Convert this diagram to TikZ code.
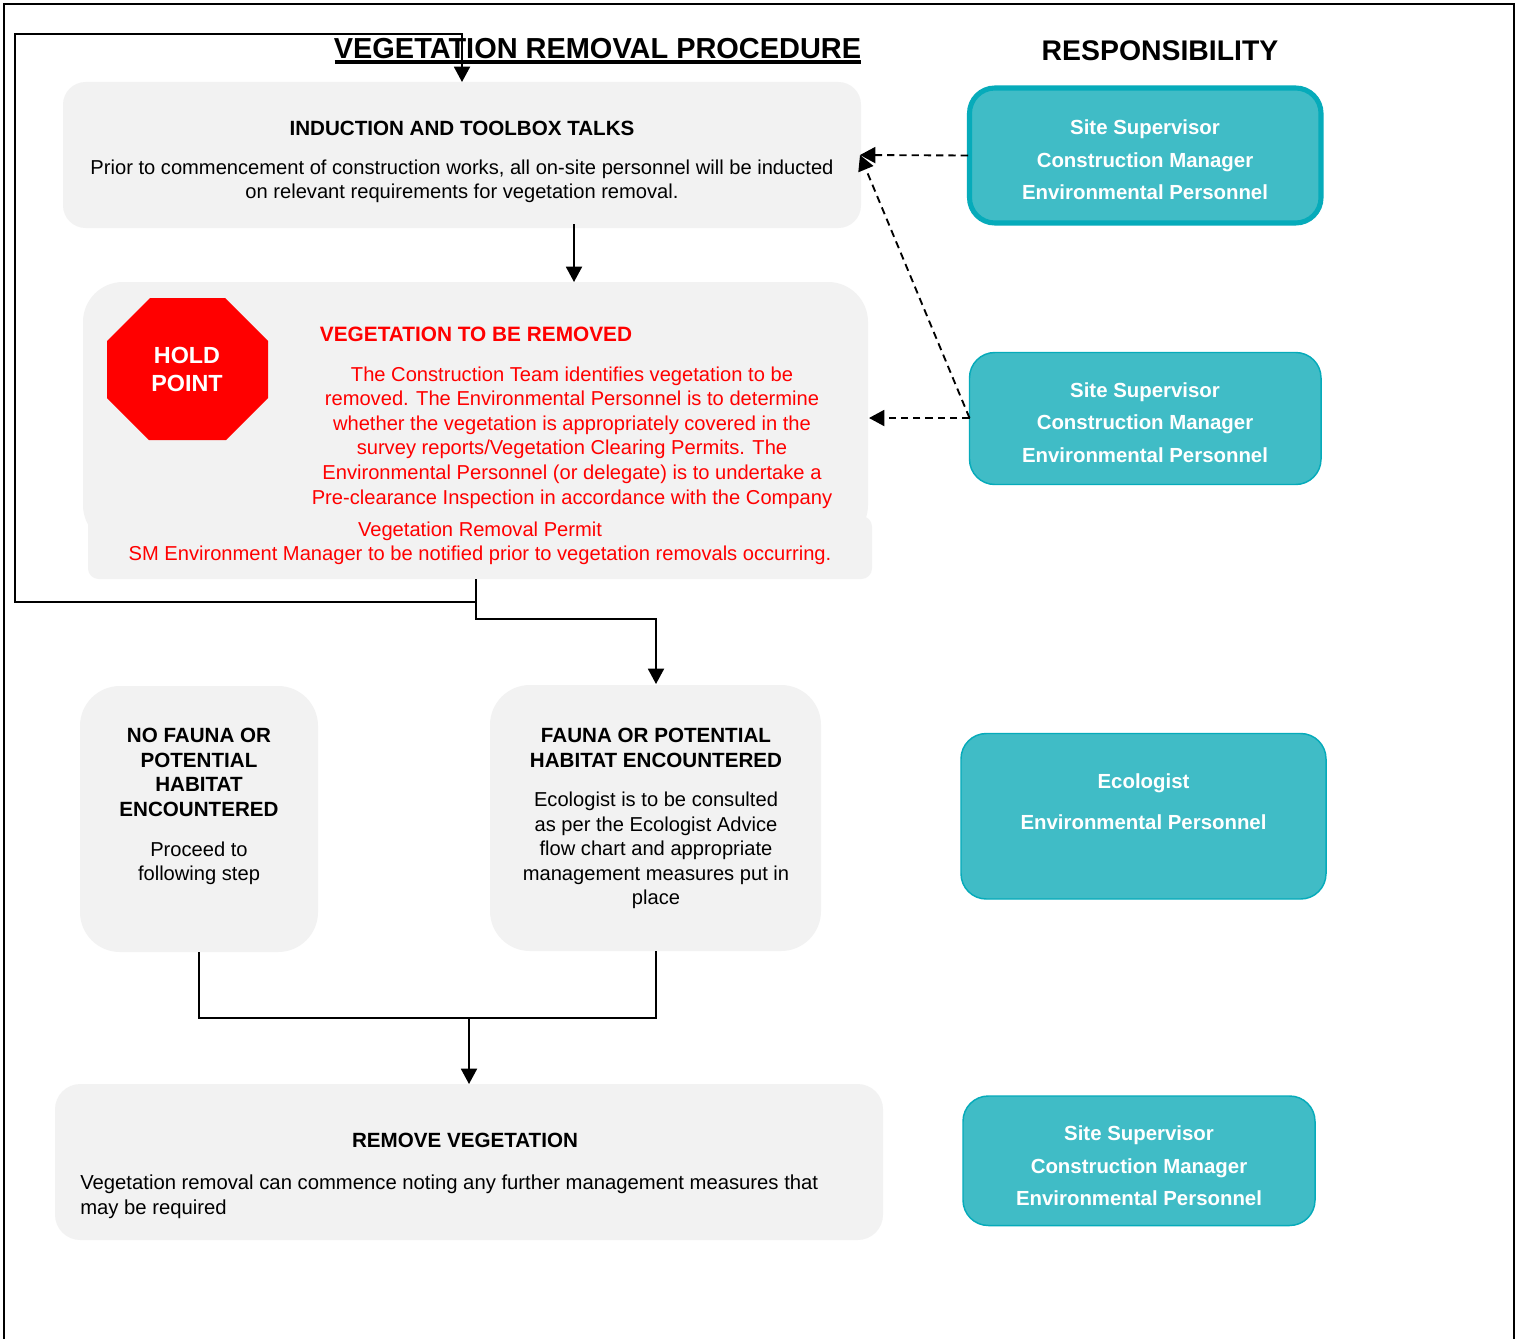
\documentclass[tikz,border=0pt]{standalone}
\usepackage{fontspec}
\setmainfont{Liberation Sans}
\usetikzlibrary{arrows.meta,calc}
\definecolor{boxgrey}{HTML}{F2F2F2}
\definecolor{tealfill}{HTML}{40BCC6}
\definecolor{tealline}{HTML}{06ABBA}
\definecolor{holdred}{HTML}{FF0000}
\newcommand{\bodyfont}{\fontsize{15.1}{18.4}\selectfont}
\newcommand{\headfont}{\fontsize{15.45}{18.4}\selectfont\bfseries}
\tikzset{
 x=0.75pt,y=-0.75pt,
 greybox/.style={fill=boxgrey,draw=none,inner sep=0pt,outer sep=0pt},
 tealbox/.style={fill=tealfill,draw=tealline,line width=1.1pt,rounded corners=19pt},
 body/.style={inner sep=0pt,align=center,text=black,font=\bodyfont},
 head/.style={inner sep=0pt,align=center,text=black,font=\headfont},
 redtxt/.style={inner sep=0pt,align=center,text=holdred,font=\bodyfont},
 tealtxt/.style={inner sep=0pt,align=center,text=white,font=\fontsize{15.3}{24.4}\selectfont\bfseries},
 conn/.style={draw=black,line width=1.4pt},
 arrowed/.style={conn,-{Triangle[length=11.5pt,width=12pt]}},
 dasharrow/.style={draw=black,line width=1.4pt,dash pattern=on 5.5pt off 3.7pt,-{Triangle[length=11.5pt,width=12pt]}},
}
\begin{document}
\begin{tikzpicture}
\useasboundingbox (0,0) rectangle (1519,1338);
\fill[white] (0,0) rectangle (1519,1338);
% frame
\draw[black,line width=1.5pt] (4,1345) -- (4,4) -- (1514,4) -- (1514,1345);
% grey boxes
\path[greybox,rounded corners=17pt] (63,82) rectangle (861,228);
\coordinate (indS) at (574,224);
\coordinate (indE) at (860,155);
\path[greybox,rounded corners=30pt] (83,282) rectangle (868,545);
\path[greybox,rounded corners=8pt] (88,516) rectangle (872,579);
\coordinate (vegN) at (574,282);
\coordinate (vegE) at (869,418);
\coordinate (vegS) at (476,579);
\path[greybox,rounded corners=30pt] (80,686) rectangle (318,952);
\coordinate (nofS) at (199,952);
\path[greybox,rounded corners=30pt] (490,685) rectangle (821,951);
\coordinate (fauN) at (656,684);
\coordinate (fauS) at (656,951);
\path[greybox,rounded corners=19pt] (55,1084) rectangle (883,1240);
\coordinate (remN) at (469,1084);
% teal boxes
\draw[tealbox,line width=3.8pt] (969.5,88) rectangle (1321,223);
\coordinate (t1W) at (968,155.5);
\draw[tealbox] (969.5,352.5) rectangle (1321,484.5);
\coordinate (t2W) at (969.5,418);
\draw[tealbox] (961,733.5) rectangle (1326,899);
\draw[tealbox] (963,1096) rectangle (1315,1225.5);
% octagon
\fill[holdred] (150,298) -- (225,298) -- (268,341) -- (268,398) -- (226,440) -- (149,440) -- (107,398) -- (107,341) -- cycle;
\node[inner sep=0pt,align=center,text=white,font=\fontsize{17.5}{21}\selectfont\bfseries] (hold) at (187,369.5) {HOLD\\POINT};
% titles
\node[inner sep=0pt,font=\fontsize{21.7}{26}\selectfont\bfseries] (title) at (597.5,48.5) {VEGETATION REMOVAL PROCEDURE};
\node[inner sep=0pt,font=\fontsize{21.3}{26}\selectfont\bfseries] (resp) at (1160,50.5) {RESPONSIBILITY};
\draw[black,line width=2.6pt] (334.5,62) -- (860.5,62);
% text
\node[head] (t-ind) at (462,128) {INDUCTION AND TOOLBOX TALKS};
\node[body] (b-ind) at (462,181.5) {Prior to commencement of construction works, all on-site personnel will be inducted\\on relevant requirements for vegetation removal.};
\node[redtxt,font=\fontsize{15.6}{18.4}\selectfont\bfseries] (t-veg) at (476,334) {VEGETATION TO BE REMOVED};
\node[redtxt] (b-veg) at (572,437.5) {The Construction Team identifies vegetation to be\\removed. The Environmental Personnel is to determine\\whether the vegetation is appropriately covered in the\\survey reports/Vegetation Clearing Permits. The\\Environmental Personnel (or delegate) is to undertake a\\Pre-clearance Inspection in accordance with the Company};
\node[redtxt] (b-veg2) at (480,543.5) {Vegetation Removal Permit\\SM Environment Manager to be notified prior to vegetation removals occurring.};
\node[head] (t-nof) at (199,772.5) {NO FAUNA OR\\POTENTIAL\\HABITAT\\ENCOUNTERED};
\node[body] (b-nof) at (199,863.5) {Proceed to\\following step};
\node[head] (t-fau) at (656,748) {FAUNA OR POTENTIAL\\HABITAT ENCOUNTERED};
\node[body] (b-fau) at (656,850.5) {Ecologist is to be consulted\\as per the Ecologist Advice\\flow chart and appropriate\\management measures put in\\place};
\node[head] (t-rem) at (465,1140) {REMOVE VEGETATION};
\node[body,font=\fontsize{15.2}{18.4}\selectfont,align=left,anchor=west] (b-rem) at (80,1196.5) {Vegetation removal can commence noting any further management measures that\\may be required};
\node[tealtxt] (r1) at (1145,160) {Site Supervisor\\Construction Manager\\Environmental Personnel};
\node[tealtxt] (r2) at (1145,422.5) {Site Supervisor\\Construction Manager\\Environmental Personnel};
\node[tealtxt,font=\fontsize{15.3}{30.6}\selectfont\bfseries] (r3) at (1143.5,802) {Ecologist\\Environmental Personnel};
\node[tealtxt] (r4) at (1139,1166) {Site Supervisor\\Construction Manager\\Environmental Personnel};
% connectors
\draw[arrowed] (vegS) -- (476,602) -| (15,34) -| (462,82);
\draw[arrowed] (vegS) -- (476,619) -| (fauN);
\draw[arrowed] (indS) -- (vegN);
\draw[conn] (nofS) |- (fauS |- 0,1018) -- (fauS);
\draw[arrowed] (469,1018) -- (remN);
\draw[dasharrow] (t1W) -- (indE);
\draw[dasharrow] (t2W) -- (vegE);
\draw[dasharrow] (t2W) -- (indE);
\end{tikzpicture}
\end{document}
